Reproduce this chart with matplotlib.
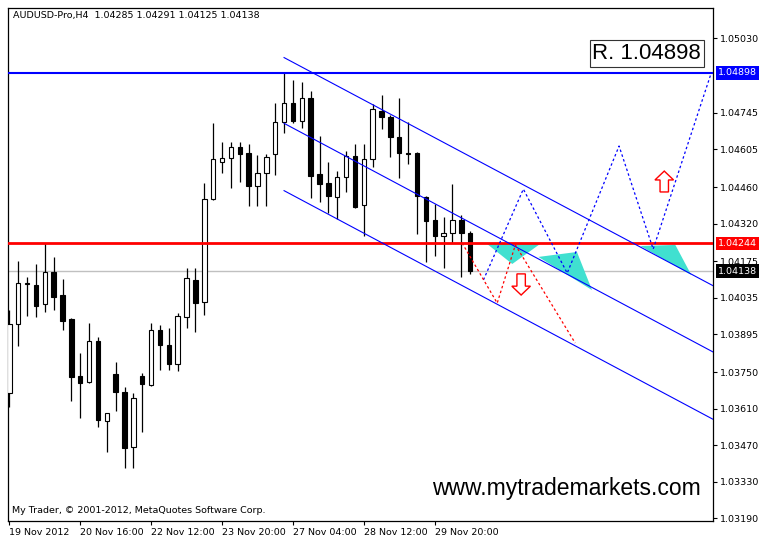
import matplotlib
matplotlib.use("Agg")
import matplotlib.pyplot as plt
import matplotlib.transforms as mtransforms
from matplotlib.patches import Polygon, FancyArrow
import numpy as np

# H4 candles, oldest first
opens = [1.03670, 1.03935, 1.04088, 1.04084, 1.04012, 1.04134, 1.04046, 1.03954, 1.03736, 1.03713,
         1.03870, 1.03563, 1.03743, 1.03674, 1.03463, 1.03736, 1.03701, 1.03912, 1.03854, 1.03782,
         1.03962, 1.04104, 1.04019, 1.04414, 1.04556, 1.04571, 1.04613, 1.04590, 1.04464, 1.04514,
         1.04587, 1.04709, 1.04782, 1.04713, 1.04801, 1.04510, 1.04475, 1.04422, 1.04498, 1.04579,
         1.04391, 1.04567, 1.04751, 1.04728, 1.04652, 1.04592, 1.04590, 1.04422, 1.04334, 1.04272,
         1.04284, 1.04334, 1.04285]
highs = [1.03989, 1.04176, 1.04115, 1.04165, 1.04244, 1.04192, 1.04107, 1.03958, 1.03824, 1.03939,
         1.03885, 1.03594, 1.03789, 1.03693, 1.03670, 1.03747, 1.03939, 1.03931, 1.03920, 1.03977,
         1.04150, 1.04150, 1.04475, 1.04705, 1.04633, 1.04633, 1.04633, 1.04625, 1.04583, 1.04587,
         1.04782, 1.04898, 1.04870, 1.04863, 1.04828, 1.04656, 1.04556, 1.04521, 1.04598, 1.04625,
         1.04625, 1.04778, 1.04813, 1.04736, 1.04801, 1.04709, 1.04594, 1.04426, 1.04395, 1.04345,
         1.04472, 1.04353, 1.04291]
lows = [1.03617, 1.03851, 1.03966, 1.03962, 1.03981, 1.03989, 1.03912, 1.03640, 1.03575, 1.03709,
        1.03540, 1.03444, 1.03602, 1.03383, 1.03383, 1.03521, 1.03697, 1.03759, 1.03759, 1.03755,
        1.03920, 1.03904, 1.03969, 1.04410, 1.04514, 1.04456, 1.04479, 1.04387, 1.04387, 1.04387,
        1.04506, 1.04667, 1.04705, 1.04686, 1.04418, 1.04403, 1.04360, 1.04337, 1.04441, 1.04380,
        1.04272, 1.04537, 1.04682, 1.04575, 1.04495, 1.04548, 1.04280, 1.04173, 1.04196, 1.04150,
        1.04245, 1.04115, 1.04125]
closes = [1.03935, 1.04092, 1.04092, 1.04004, 1.04134, 1.04038, 1.03946, 1.03732, 1.03709, 1.03870,
          1.03567, 1.03594, 1.03674, 1.03460, 1.03651, 1.03705, 1.03912, 1.03854, 1.03782, 1.03966,
          1.04111, 1.04015, 1.04414, 1.04567, 1.04571, 1.04613, 1.04587, 1.04464, 1.04514, 1.04575,
          1.04709, 1.04782, 1.04713, 1.04801, 1.04502, 1.04472, 1.04426, 1.04498, 1.04579, 1.04383,
          1.04567, 1.04759, 1.04728, 1.04652, 1.04590, 1.04588, 1.04426, 1.04330, 1.04272, 1.04284,
          1.04334, 1.04284, 1.04138]

date_ticks = [0, 8, 16, 24, 32, 40, 48]
date_labels = ["19 Nov 2012", "20 Nov 16:00", "22 Nov 12:00", "23 Nov 20:00",
               "27 Nov 04:00", "28 Nov 12:00", "29 Nov 20:00"]
price_ticks = [1.05030, 1.04745, 1.04605, 1.04460, 1.04320, 1.04175, 1.04035,
               1.03895, 1.03750, 1.03610, 1.03470, 1.03330, 1.03190]

resistance = 1.04898
support = 1.04244
bid = 1.04138

# channel anchors (bar index, price)
chan_x = [31, 80]
chan_upper = [1.04956, 1.04071]
chan_mid = [1.04704, 1.03817]
chan_lower = [1.04446, 1.03559]

# projected paths
bull_x = [53.5, 58.0, 62.95, 68.8, 72.65, 79.2]
bull_y = [1.04104, 1.04452, 1.04130, 1.04617, 1.04222, 1.04897]
bear_x = [51.1, 55.05, 57.1, 63.85]
bear_y = [1.04245, 1.04015, 1.04238, 1.03862]

# turquoise zones
zone_x = [[53.9, 59.9, 56.75], [59.7, 64.05, 65.75], [71.2, 75.15, 76.95]]
zone_y = [[1.04242, 1.04242, 1.04165], [1.04192, 1.04211, 1.04065], [1.04234, 1.04238, 1.04123]]

# hollow arrows: x, tail price, tip price
arrow_x = [57.75, 73.9]
arrow_tail = [1.04127, 1.04441]
arrow_tip = [1.04046, 1.04521]

FONT = "DejaVu Sans"
FS = 6.8

fig = plt.figure(figsize=(7.72, 5.49), dpi=100)
ax = fig.add_axes([8/772, 1-521/549, 705/772, 513/549])

x = np.arange(len(opens))
o = np.array(opens); c = np.array(closes)
up = c >= o
bottom = np.minimum(o, c)
height = np.maximum(np.abs(c - o), 0.000005)

ax.axhline(bid, color="#c0c0c0", lw=1.0, zorder=1)
ax.vlines(x, lows, highs, color="black", lw=0.9, zorder=2)
ax.bar(x, height, bottom=bottom, width=0.5, color=np.where(up, "white", "black"),
       edgecolor="black", linewidth=0.8, zorder=3)

ax.axhline(resistance, color="#0000ff", lw=1.5, zorder=4)
ax.axhline(support, color="#ff0000", lw=2.0, zorder=4)

for ys in (chan_upper, chan_mid, chan_lower):
    ax.plot(chan_x, ys, color="#0000ff", lw=0.8, zorder=4)

for zx, zy in zip(zone_x, zone_y):
    ax.add_patch(Polygon(list(zip(zx, zy)), closed=True, fc="#40e0d0", ec="none", zorder=2))

ax.plot(bull_x, bull_y, color="#0000ff", lw=0.9, ls=(0, (2, 2)), zorder=5)
ax.plot(bear_x, bear_y, color="#ff0000", lw=0.9, ls=(0, (2, 2)), zorder=5)

for ax_, t0, t1 in zip(arrow_x, arrow_tail, arrow_tip):
    ax.add_patch(FancyArrow(ax_, t0, 0, t1 - t0, width=0.95, head_width=2.1,
                            head_length=0.00034, length_includes_head=True,
                            fc="white", ec="#ff0000", lw=1.0, zorder=6))

ax.set_xlim(-0.15, 79.4)
ax.set_ylim(1.03180, 1.05146)

ax.yaxis.tick_right()
ax.set_yticks(price_ticks)
ax.set_yticklabels(["%.5f" % p for p in price_ticks], fontsize=FS, family=FONT)
ax.tick_params(axis="y", direction="out", length=3, width=0.8, pad=2)
ax.set_xticks(date_ticks)
ax.set_xticklabels(date_labels, fontsize=FS, family=FONT, ha="left")
ax.tick_params(axis="x", direction="out", length=3, width=0.8, pad=2)
for s in ax.spines.values():
    s.set_linewidth(0.9)

trans = mtransforms.blended_transform_factory(ax.transAxes, ax.transData)
for val, col in ((resistance, "#0000ff"), (support, "#ff0000"), (bid, "black")):
    ax.text(1.007, val, "%.5f" % val, transform=trans, fontsize=FS, family=FONT,
            color="white", ha="left", va="center", clip_on=False,
            bbox=dict(boxstyle="square,pad=0.25", fc=col, ec="none"))

ax.text(0.007, 0.986, "AUDUSD-Pro,H4  %.5f %.5f %.5f %.5f" % (opens[-1], highs[-1], lows[-1], closes[-1]),
        transform=ax.transAxes, fontsize=FS, family=FONT, ha="left", va="center")
ax.text(0.006, 0.0195, "My Trader, \u00a9 2001-2012, MetaQuotes Software Corp.",
        transform=ax.transAxes, fontsize=FS, family=FONT, ha="left", va="center")
ax.text(0.7915, 0.0624, "www.mytrademarkets.com", transform=ax.transAxes,
        fontsize=16.5, family="Liberation Sans", ha="center", va="center")
ax.text(0.906, 0.911, "R. %.5f" % resistance, transform=ax.transAxes,
        fontsize=16, family="Liberation Sans", ha="center", va="center", zorder=7,
        bbox=dict(boxstyle="square,pad=0.12", fc="white", ec="#333333", lw=0.8))

fig.savefig("out.png", dpi=100)
